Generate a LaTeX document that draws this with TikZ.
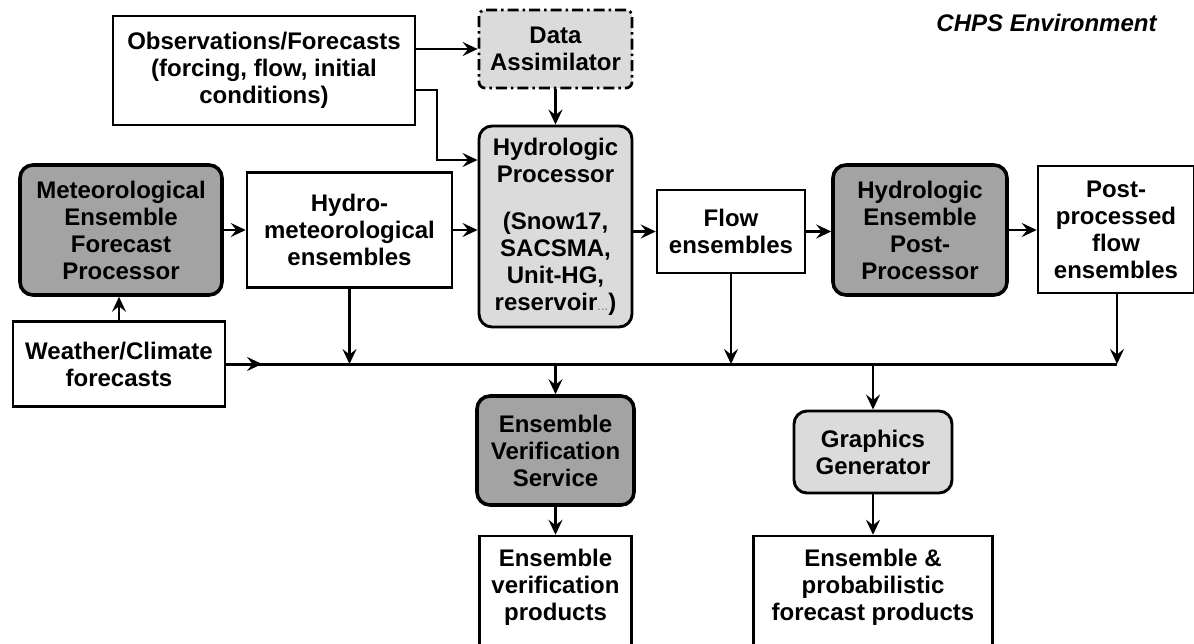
\documentclass[tikz,border=0pt]{standalone}
\usepackage{fontspec}
\setmainfont{Liberation Sans}
\usetikzlibrary{arrows.meta}
\definecolor{darkfill}{gray}{0.64}
\definecolor{lightfill}{gray}{0.86}
\tikzset{
  every node/.style={font=\fontsize{24}{27}\selectfont\bfseries, align=center, inner sep=0pt},
  plainbox/.style={draw, line width=2.5pt, fill=white},
  darkbox/.style={draw, line width=3.6pt, fill=darkfill, rounded corners=13pt},
  lightbox/.style={draw, line width=2.9pt, fill=lightfill, rounded corners=13pt},
  dabox/.style={draw, line width=2.7pt, fill=lightfill, rounded corners=6pt,
     dash pattern=on 11pt off 4pt on 2.5pt off 4pt},
  arr/.style={line width=2.7pt, -{Stealth[length=15pt,width=14pt,inset=5.5pt]}},
  busline/.style={line width=3pt},
}
\begin{document}
\begin{tikzpicture}[x=1pt,y=-1pt]
\useasboundingbox (0,0) rectangle (1194,643);
% boxes
\node[plainbox, minimum width=302, minimum height=109] (obs) at (264,70.5)
  {Observations/Forecasts\\(forcing, flow, initial\\conditions)};
\node[dabox, minimum width=153, minimum height=78] (da) at (555.5,49)
  {Data\\Assimilator};
\node[lightbox, minimum width=153, minimum height=201] (hp) at (555.5,226.5)
  {Hydrologic\\Processor\\[20pt](Snow17,\\SACSMA,\\Unit-HG,\\reservoir{\color{gray}\fontsize{13}{13}\selectfont\mdseries...})};
\node[darkbox, minimum width=202, minimum height=130] (mefp) at (121,230)
  {Meteorological\\Ensemble\\Forecast\\Processor};
\node[plainbox, minimum width=205, minimum height=115] (hm) at (349.5,230)
  {Hydro-\\meteorological\\ensembles};
\node[plainbox, minimum width=212, minimum height=85] (wc) at (119,364)
  {Weather/Climate\\forecasts};
\node[plainbox, minimum width=148, minimum height=83] (flow) at (731,231.5)
  {Flow\\ensembles};
\node[darkbox, minimum width=174, minimum height=130] (hepp) at (920,230)
  {Hydrologic\\Ensemble\\Post-\\Processor};
\node[plainbox, minimum width=156, minimum height=127] (post) at (1116,229.5)
  {Post-\\processed\\flow\\ensembles};
\node[darkbox, minimum width=157, minimum height=109] (evs) at (555.5,450.5)
  {Ensemble\\Verification\\Service};
\node[lightbox, minimum width=158, minimum height=82] (gg) at (873,452)
  {Graphics\\Generator};
\node[plainbox, minimum width=152, minimum height=124] (evp) at (555.5,598) {};
\node (evptxt) at (555.5,587.5) {Ensemble\\verification\\products};
\node[plainbox, minimum width=239, minimum height=124] (epfp) at (873,598) {};
\node (epfptxt) at (873,587.5) {Ensemble \&\\probabilistic\\forecast products};
\node[font=\fontsize{24}{27}\selectfont\bfseries\itshape] (chps) at (1046.5,23) {CHPS Environment};
% connectors
\draw[arr] (obs.east |- da.west) -- (da.west);
\coordinate (bend) at (437,160);
\draw[arr] ([yshift=-19.5pt]obs.east) -| (bend) -- (bend -| hp.west);
\draw[arr] (da.south) -- (hp.north);
\draw[arr] (wc.north) -- (wc.north |- mefp.south);
\draw[arr] (mefp.east) -- (mefp.east -| hm.west);
\draw[arr] (hm.east) -- (hm.east -| hp.west);
\draw[arr] (hp.east |- flow.west) -- (flow.west);
\draw[arr] (flow.east) -- (flow.east -| hepp.west);
\draw[arr] (hepp.east) -- (hepp.east -| post.west);
% bus
\coordinate (busend) at (1117,364);
\coordinate (busarrow) at (262,364);
\draw[busline] (wc.east) -- (busend);
\draw[arr] (wc.east) -- (busarrow);
\draw[arr] (hm.south) -- (hm.south |- busend);
\draw[arr] (flow.south) -- (flow.south |- busend);
\draw[arr] (post.south -| busend) -- (busend);
\draw[arr] (evs.north |- busend) -- (evs.north);
\draw[arr] (gg.north |- busend) -- (gg.north);
\draw[arr] (evs.south) -- (evs.south |- evp.north);
\draw[arr] (gg.south) -- (gg.south |- epfp.north);
\end{tikzpicture}
\end{document}
